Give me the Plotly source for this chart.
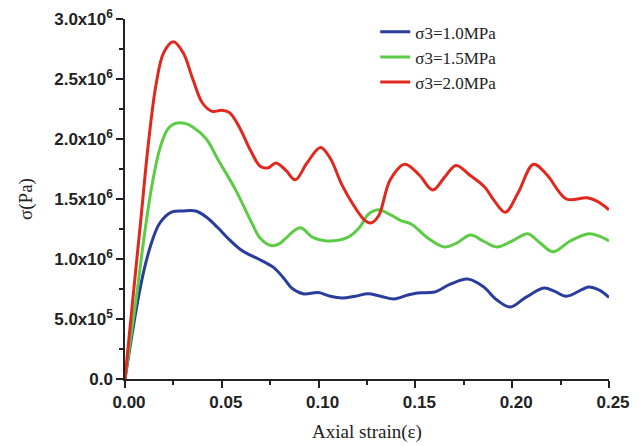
import plotly.graph_objects as go

# Axial strain / deviatoric stress samples for each confining pressure
strain_10 = [0, 0.0067, 0.010, 0.014, 0.018, 0.024, 0.030, 0.0365, 0.042, 0.048, 0.054, 0.060,
             0.065, 0.069, 0.0767, 0.082, 0.086, 0.092, 0.0998, 0.106, 0.112, 0.119, 0.1255,
             0.132, 0.139, 0.146, 0.151, 0.160, 0.168, 0.177, 0.185, 0.192, 0.199, 0.207,
             0.2165, 0.222, 0.228, 0.2397, 0.245, 0.25]
stress_10 = [0, 0.66, 0.92, 1.15, 1.30, 1.39, 1.40, 1.40, 1.35, 1.26, 1.16, 1.075,
             1.03, 1.00, 0.93, 0.84, 0.76, 0.71, 0.72, 0.69, 0.675, 0.69, 0.71,
             0.69, 0.667, 0.70, 0.717, 0.725, 0.79, 0.833, 0.77, 0.66, 0.60, 0.68,
             0.758, 0.73, 0.69, 0.767, 0.74, 0.68]

strain_15 = [0, 0.0057, 0.010, 0.014, 0.018, 0.022, 0.026, 0.031, 0.035, 0.042, 0.048, 0.057,
             0.0655, 0.070, 0.0757, 0.080, 0.0828, 0.0905, 0.097, 0.104, 0.115, 0.121,
             0.1255, 0.1307, 0.137, 0.1425, 0.148, 0.156, 0.165, 0.171, 0.1785, 0.185,
             0.192, 0.200, 0.208, 0.214, 0.221, 0.230, 0.2397, 0.245, 0.25]
stress_15 = [0, 0.66, 1.2, 1.62, 1.92, 2.08, 2.13, 2.13, 2.10, 2.00, 1.83, 1.58,
             1.30, 1.17, 1.11, 1.13, 1.17, 1.26, 1.18, 1.15, 1.18, 1.26,
             1.37, 1.41, 1.37, 1.32, 1.29, 1.18, 1.10, 1.13, 1.20, 1.15,
             1.10, 1.15, 1.21, 1.14, 1.06, 1.15, 1.21, 1.19, 1.15]

strain_20 = [0, 0.004, 0.008, 0.012, 0.016, 0.020, 0.025, 0.030, 0.035, 0.040, 0.045, 0.050,
             0.054, 0.059, 0.065, 0.070, 0.074, 0.078, 0.083, 0.088, 0.094, 0.101, 0.106,
             0.112, 0.118, 0.124, 0.127, 0.131, 0.137, 0.1445, 0.152, 0.159, 0.165, 0.171,
             0.178, 0.1857, 0.191, 0.1965, 0.203, 0.211, 0.218, 0.228, 0.2387, 0.244, 0.25]
stress_20 = [0, 0.66, 1.3, 1.95, 2.45, 2.72, 2.81, 2.72, 2.50, 2.30, 2.23, 2.24,
             2.22, 2.10, 1.90, 1.77, 1.76, 1.80, 1.74, 1.66, 1.80, 1.93, 1.84,
             1.62, 1.45, 1.32, 1.30, 1.36, 1.66, 1.79, 1.70, 1.575, 1.68, 1.78,
             1.70, 1.60, 1.48, 1.39, 1.55, 1.79, 1.70, 1.50, 1.51, 1.48, 1.41]

series_names = ["σ3=1.0MPa", "σ3=1.5MPa", "σ3=2.0MPa"]
series_colors = ["#2a3c9c", "#5ccb45", "#e0281f"]

y_tickvals = [0, 0.5e6, 1.0e6, 1.5e6, 2.0e6, 2.5e6, 3.0e6]
y_ticktext = ["0.0", "5.0x10<sup>5</sup>", "1.0x10<sup>6</sup>", "1.5x10<sup>6</sup>",
              "2.0x10<sup>6</sup>", "2.5x10<sup>6</sup>", "3.0x10<sup>6</sup>"]

fig = go.Figure()
for xs, ys, name, color in zip([strain_10, strain_15, strain_20],
                               [stress_10, stress_15, stress_20],
                               series_names, series_colors):
    fig.add_trace(go.Scatter(
        x=xs, y=[v * 1e6 for v in ys], name=name, mode="lines",
        line=dict(color=color, width=3, shape="spline", smoothing=1.0),
    ))

tick_font = dict(family="Liberation Sans, Arial", size=17, color="#222222", weight="bold")
title_font = dict(family="Liberation Serif, Times New Roman", size=19, color="#222222")

fig.update_layout(
    width=644, height=446,
    margin=dict(l=125, r=35, t=19, b=67, autoexpand=False),
    paper_bgcolor="white", plot_bgcolor="white",
    showlegend=True,
    legend=dict(
        x=0.517, y=1.013, xanchor="left", yanchor="top",
        font=dict(family="Liberation Serif, Times New Roman", size=17, color="#222222"),
        bgcolor="rgba(0,0,0,0)", tracegroupgap=0, itemwidth=30,
    ),
    xaxis=dict(
        range=[0, 0.25], tickmode="array",
        tickvals=[0, 0.05, 0.10, 0.15, 0.20, 0.25],
        ticktext=["0.00", "0.05", "0.10", "0.15", "0.20", "0.25"],
        ticks="outside", ticklen=7, tickwidth=1.5, tickcolor="#222222",
        showline=True, linecolor="#222222", linewidth=1.5,
        showgrid=False, zeroline=False, tickfont=tick_font,
        ticklabelshift=4, automargin=False,
        minor=dict(ticks="outside", ticklen=4, tickwidth=1.5, tickcolor="#222222",
                   tickvals=[0.025, 0.075, 0.125, 0.175, 0.225], showgrid=False),
        title=dict(text="Axial strain(ε)", font=title_font, standoff=14),
    ),
    yaxis=dict(
        range=[0, 3.0e6], tickmode="array", tickvals=y_tickvals, ticktext=y_ticktext,
        ticks="outside", ticklen=7, tickwidth=1.5, tickcolor="#222222",
        showline=True, linecolor="#222222", linewidth=1.5,
        showgrid=False, zeroline=False, tickfont=tick_font, automargin=False,
        minor=dict(ticks="outside", ticklen=4, tickwidth=1.5, tickcolor="#222222",
                   tickvals=[0.25e6, 0.75e6, 1.25e6, 1.75e6, 2.25e6, 2.75e6], showgrid=False),
        title=dict(text="σ(Pa)", font=title_font, standoff=17),
    ),
)

fig.write_html("out.html")
